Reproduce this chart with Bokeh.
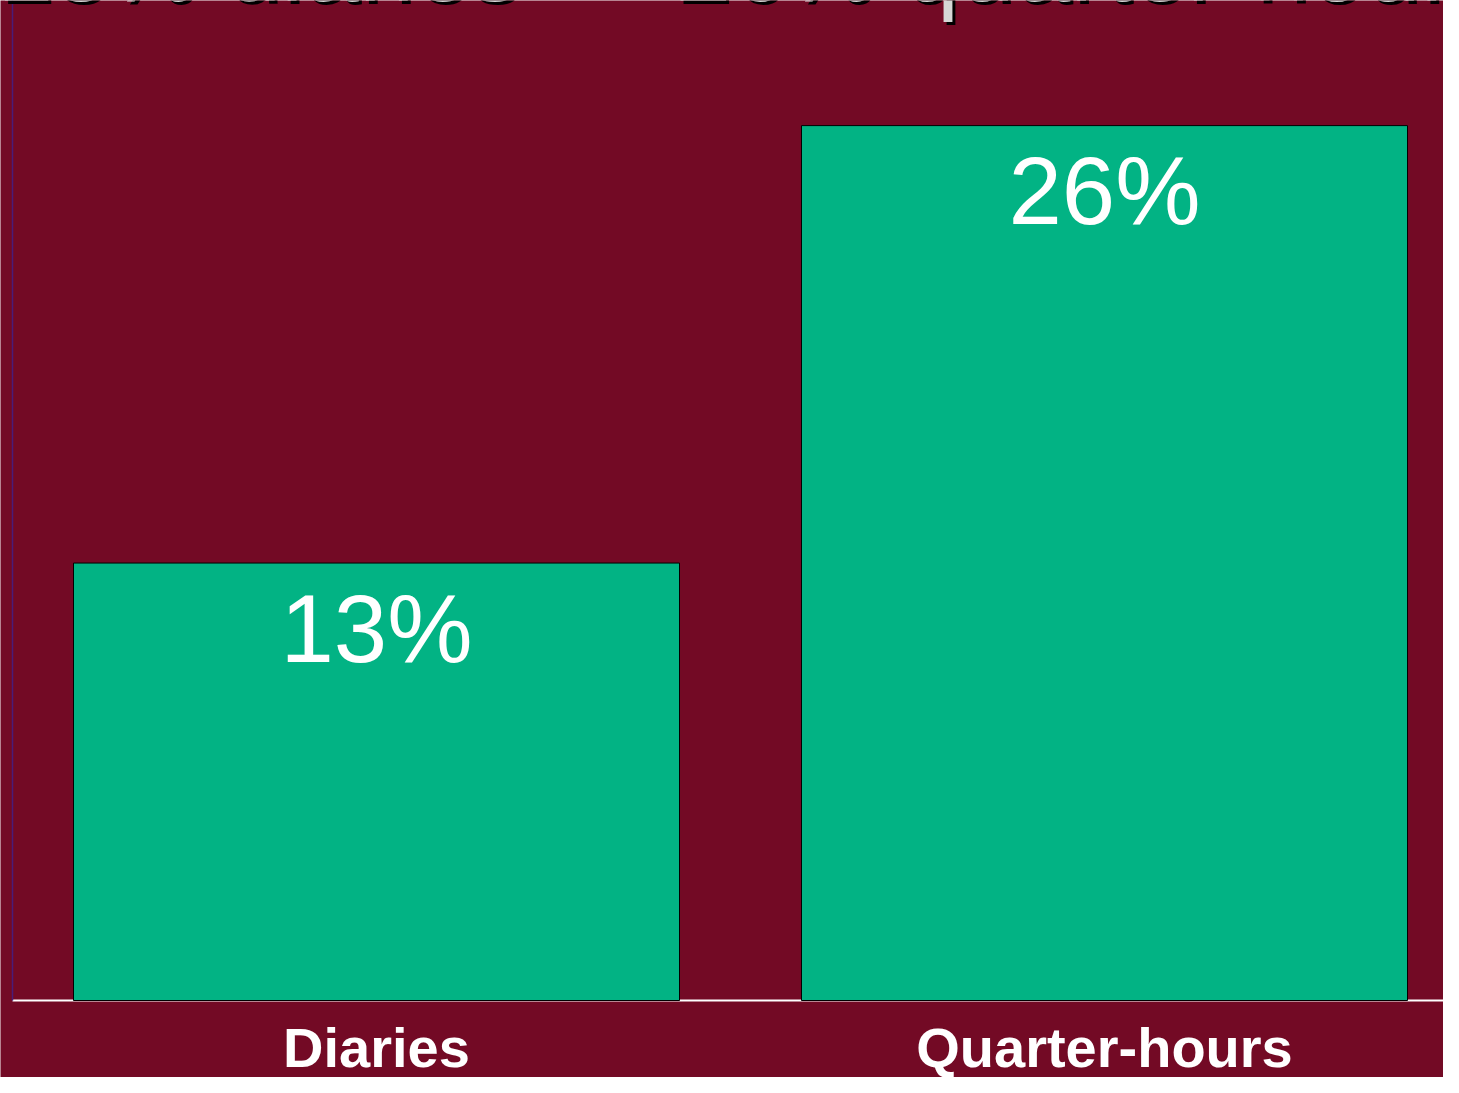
from bokeh.plotting import figure
from bokeh.models import Range1d
from bokeh.core.properties import value
from bokeh.embed import file_html
from bokeh.resources import INLINE

# ---- data ----
categories = ["Diaries", "Quarter-hours"]
values = [13, 26]
value_labels = ["13%", "26%"]
title_text = "13% diaries \u2014 26% quarter-hours"

# ---- geometry (pixels) ----
W, H = 1443, 1077
x0_px = 12         # x=0 position in px
unit_px = 728      # px per category slot
base_px = 1000     # y=0 position in px from top
pct_px = 33.65     # px per percent

x_range = Range1d(-x0_px / unit_px, (W - x0_px) / unit_px)
y_range = Range1d((base_px - H) / pct_px, base_px / pct_px)

BG = "#730A25"
BAR = "#02B384"

p = figure(width=W, height=H, x_range=x_range, y_range=y_range,
           output_backend="svg", toolbar_location=None,
           min_border=0, min_border_left=0, min_border_right=0,
           min_border_top=0, min_border_bottom=0)
p.background_fill_color = BG
p.border_fill_color = BG
p.outline_line_color = None
p.xaxis.visible = False
p.yaxis.visible = False
p.grid.visible = False

xs = [i + 0.5 for i in range(len(categories))]

# axis lines
p.segment(x0=[0], y0=[0], x1=[x_range.end], y1=[0], line_color="white", line_width=2)
p.segment(x0=[0], y0=[0], x1=[0], y1=[y_range.end], line_color="#4A1C78", line_width=1.5)

# bars
p.vbar(x=xs, top=values, bottom=0, width=606 / unit_px,
       fill_color=BAR, line_color="black", line_width=1)

# value labels
p.text(x=xs, y=values, text=value_labels, y_offset=65,
       text_align="center", text_baseline="alphabetic",
       text_color="white", text_font=value("Liberation Sans"),
       text_font_size="96px")

# category labels
p.text(x=xs, y=[0, 0], text=categories, y_offset=47,
       text_align="center", text_baseline="alphabetic",
       text_color="white", text_font=value("Liberation Sans"),
       text_font_style="bold", text_font_size="56px")

# cropped title (shadow + gray)
p.text(x=[x_range.start], y=[y_range.end], text=[title_text], x_offset=0, y_offset=-32,
       text_align="left", text_baseline="alphabetic", text_color="black",
       text_font=value("Liberation Sans"), text_font_size="100px")
p.text(x=[x_range.start], y=[y_range.end], text=[title_text], x_offset=-3, y_offset=-35,
       text_align="left", text_baseline="alphabetic", text_color="#D6D6D6",
       text_font=value("Liberation Sans"), text_font_size="100px")

open("out.html", "w").write(file_html(p, INLINE))
